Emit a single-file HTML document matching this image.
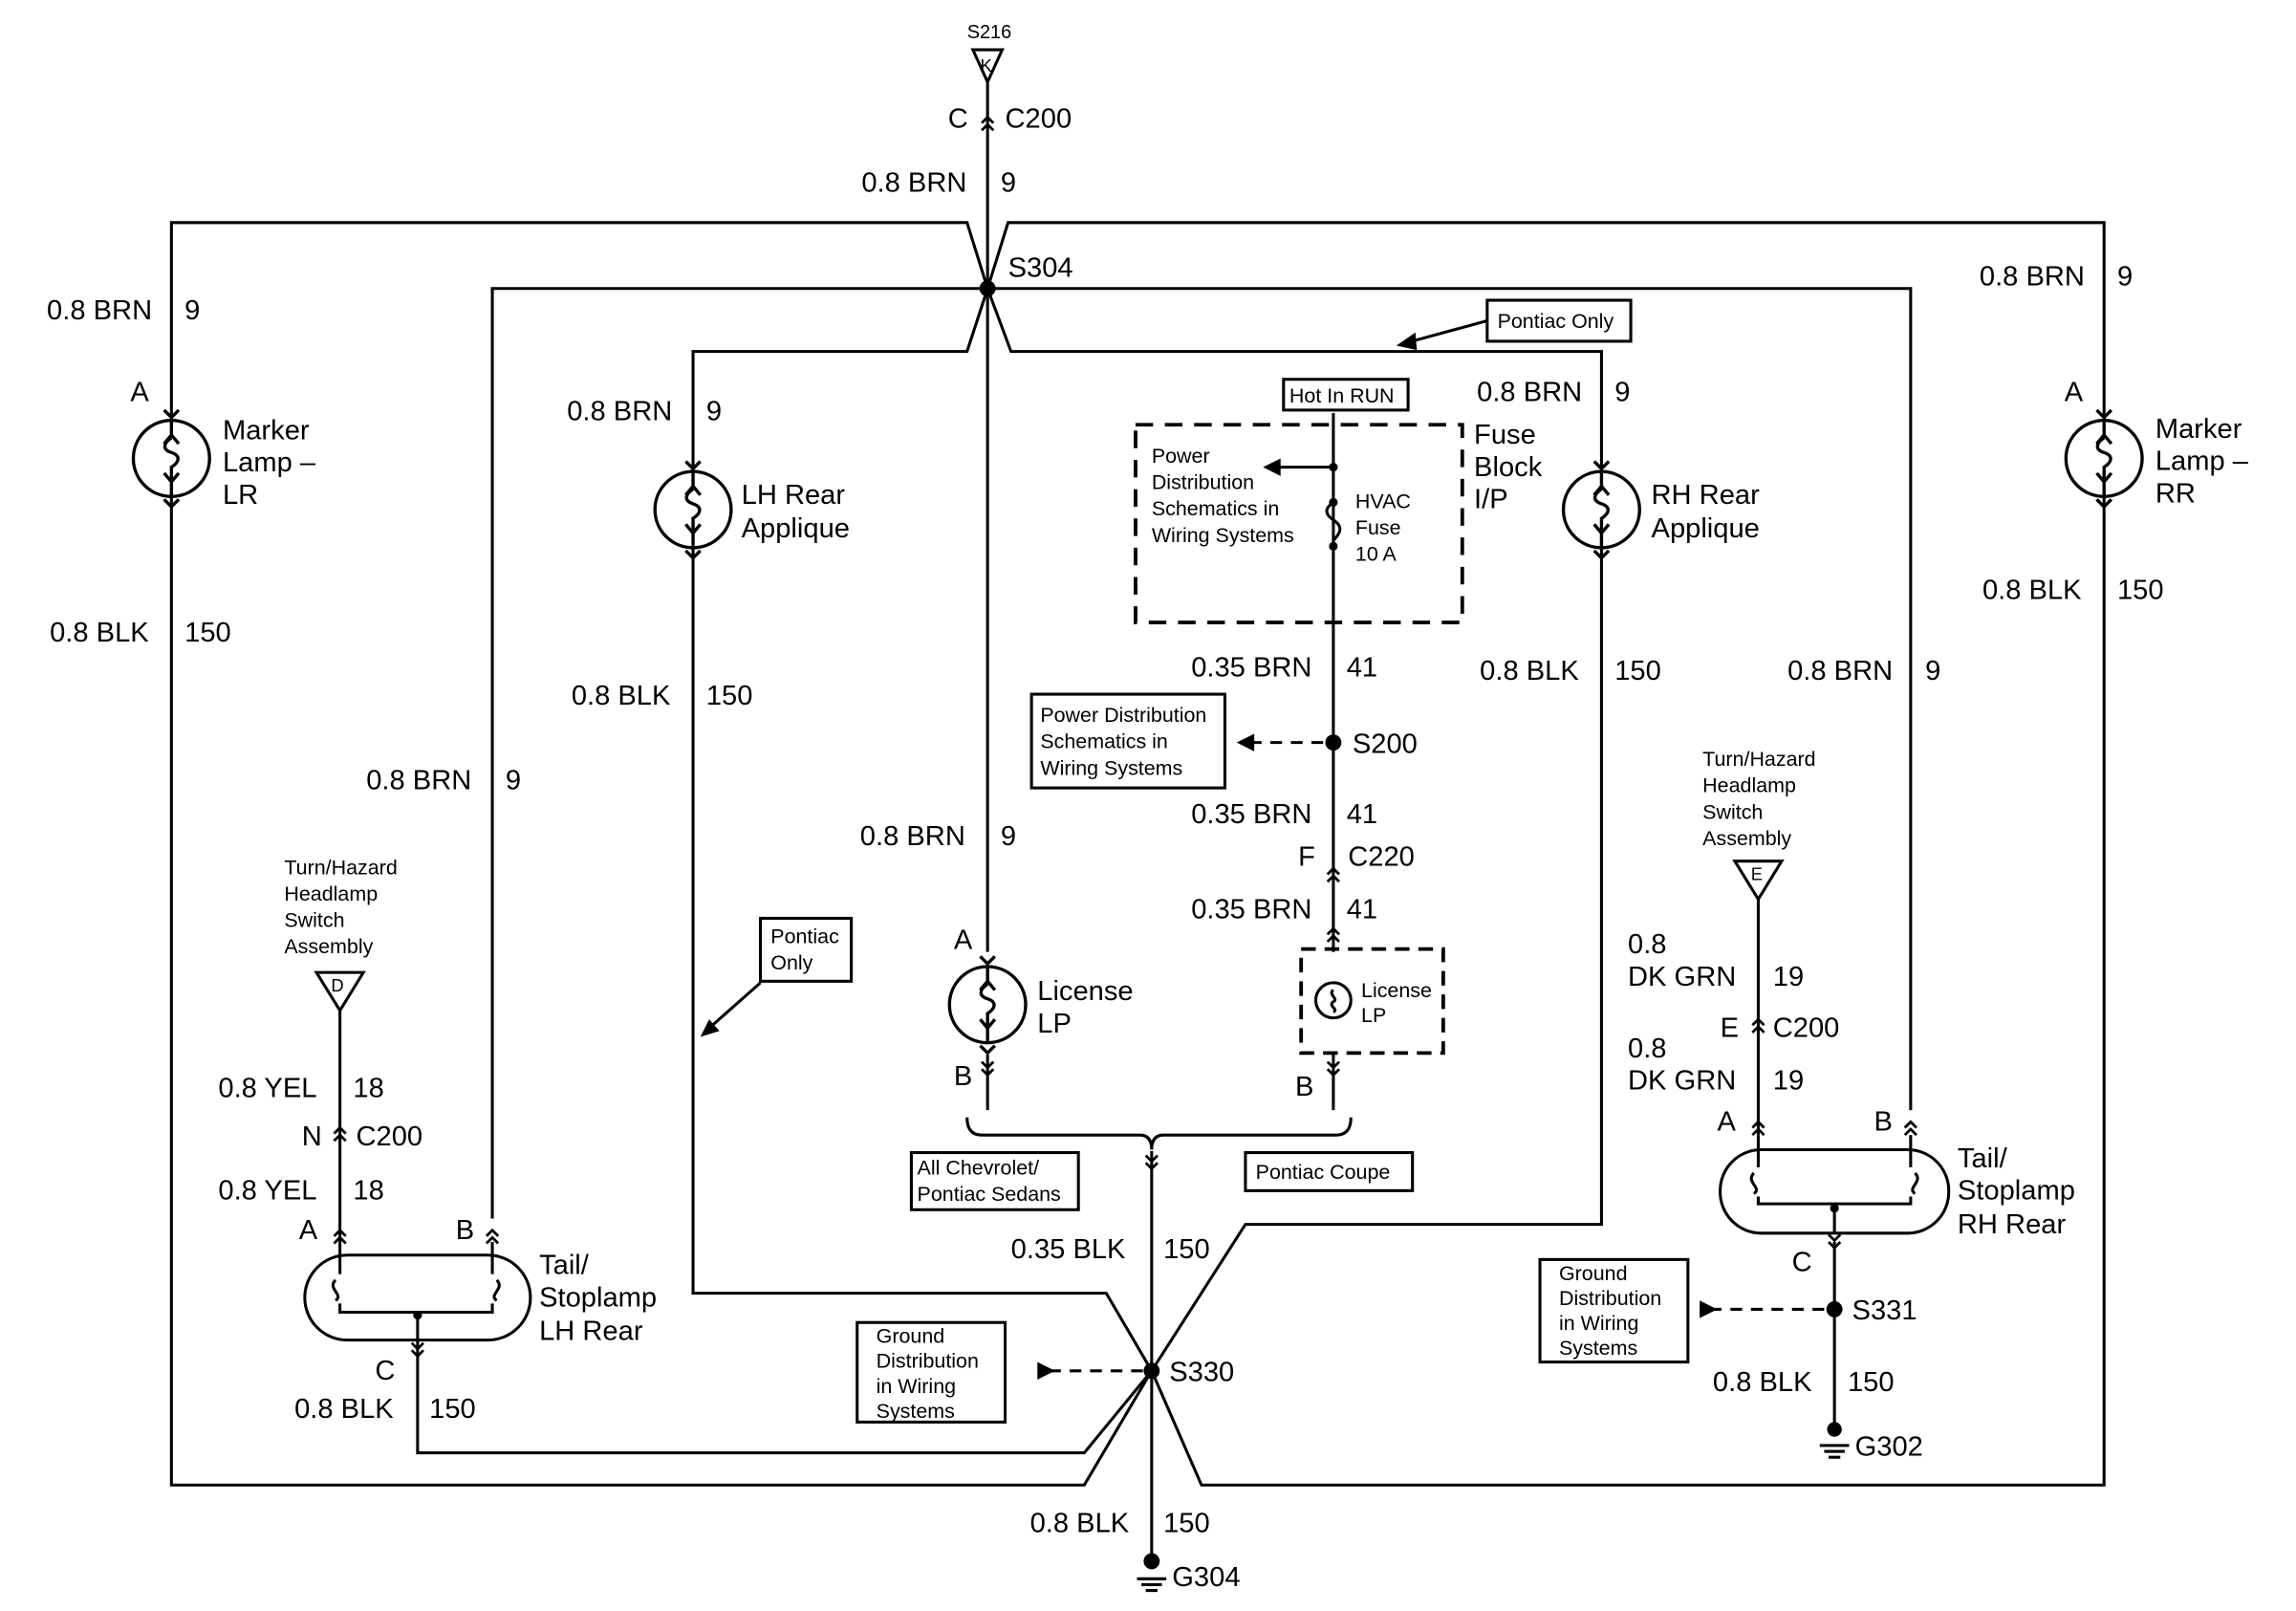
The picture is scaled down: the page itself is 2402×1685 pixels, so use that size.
<!DOCTYPE html>
<html><head><meta charset="utf-8"><style>
html,body{margin:0;padding:0;background:#fff}
svg{display:block}
text{font-family:"Liberation Sans",Arial,sans-serif;fill:#000}
.l{font-size:19px}
.s{font-size:14px}
</style></head><body>
<svg width="2402" height="1685" viewBox="0 0 1567 1100" preserveAspectRatio="none" xmlns="http://www.w3.org/2000/svg">
<defs>
<g id="lamp" fill="none" stroke="#000" stroke-width="2.2">
<circle r="26"/>
<path d="M0,-26 V-14 M-5,-10 L0,-16 L5,-10 M0,-14 c-6,4 -6,8 0,10 c6,2 6,6 0,10 V14 M-5,10 L0,16 L5,10 M0,16 V26"/>
<path d="M-5,-33 L0,-28 L5,-33 M-5,28 L0,33 L5,28"/>
</g>
<g id="chev" fill="none" stroke="#000" stroke-width="1.8"><path d="M-4,-2 L0,-6 L4,-2 M-4,3 L0,-1 L4,3"/></g>
<g id="chevd" fill="none" stroke="#000" stroke-width="1.8"><path d="M-4,-3 L0,1 L4,-3 M-4,2 L0,6 L4,2"/></g>
</defs>
<g fill="none" stroke="#000" stroke-width="2">
<path d="M664,34 H684 L674,56 Z"/>
<path d="M674,56 V650"/>
<path d="M117,286 V152 H660 L674,197 L688,152 H1436 V286"/>
<path d="M117,340 V1014 H740 L786,936 L820,1014 H1436 V340"/>
<path d="M336,832 V197 H1304 V758"/>
<path d="M473,322 V240 H660 L674,197 L690,240 H1093 V322"/>
<path d="M473,375 V883 H755 L786,936 L850,836 H1093 V375"/>
<path d="M786,786 V1066"/>
<path d="M285,925 V992 H740 L786,936"/>
<path d="M910,282 V650 M910,720 V758"/>
<path d="M910,319 H870"/>
<path d="M910,343 c-6,4 -6,8 0,12 c6,4 6,8 0,14" />
<path d="M674,720 V758"/>
<path d="M660,763 q0,12 10,12 H778 q8,0 8,10 q0,-10 8,-10 H912 q10,0 10,-12"/>
<path d="M216,664 H248 L232,690 Z M232,690 V848"/>
<path d="M1184,588 H1216 L1200,614 Z M1200,614 V775"/>
<rect x="208" y="857" width="154" height="58" rx="29"/>
<path d="M232,848 V870 M336,848 V870 M229,874 c-6,6 6,10 0,14 M339,874 c6,6 -6,10 0,14 M232,890 V896 H336 V890 M285,896 V915 M285,915 V925"/>
<rect x="1174" y="785" width="156" height="57" rx="28"/>
<path d="M1200,775 V797 M1304,775 V797 M1197,801 c-6,6 6,10 0,14 M1307,801 c6,6 -6,10 0,14 M1200,817 V822 H1304 V817 M1252,822 V842 M1252,848 V975"/>
<rect x="775" y="290" width="223" height="135" stroke-dasharray="12,8" stroke-width="2.5"/>
<rect x="888" y="648" width="97" height="71" stroke-dasharray="10,6" stroke-width="2.5"/>
<circle cx="910" cy="683" r="12"/>
<path d="M910,676 c-4,3 4,6 0,8 c-4,3 4,5 0,7"/>
<path d="M903,507 H855" stroke-dasharray="8,6"/>
<path d="M780,936 H710" stroke-dasharray="8,6"/>
<path d="M1245,894 H1170" stroke-dasharray="8,6"/>
<path d="M1015,219 L960,234"/>
<path d="M519,671 L484,702"/>
<rect x="876" y="259" width="85" height="21"/>
<rect x="1015" y="205" width="98" height="28"/>
<rect x="704" y="474" width="132" height="64"/>
<rect x="519" y="627" width="62" height="43"/>
<rect x="622" y="787" width="114" height="39"/>
<rect x="850" y="787" width="114" height="26"/>
<rect x="585" y="903" width="101" height="68"/>
<rect x="1051" y="860" width="101" height="70"/>
<path d="M776,1078 H796 M779,1082 H793 M782,1086 H790"/>
<path d="M1242,987 H1262 M1245,991 H1259 M1248,995 H1256"/>
</g>
<g fill="#000">
<path d="M862,319 L874,313 L874,325 Z"/>
<path d="M844,507 L856,501 L856,513 Z"/>
<path d="M720,936 L708,930 L708,942 Z"/>
<path d="M1172,894 L1160,888 L1160,900 Z"/>
<path d="M953,236 L966,227 L967,239 Z"/>
<path d="M478,708 L484,696 L491,704 Z"/>
<circle cx="674" cy="197" r="5.5"/>
<circle cx="910" cy="507" r="5.5"/>
<circle cx="786" cy="936" r="5.5"/>
<circle cx="1252" cy="894" r="5.5"/>
<circle cx="786" cy="1066" r="5.5"/>
<circle cx="1252" cy="976" r="5"/>
<circle cx="910" cy="319" r="3"/><circle cx="910" cy="343" r="3"/><circle cx="910" cy="373" r="3"/>
<circle cx="285" cy="898" r="3"/><circle cx="1252" cy="825" r="3"/>
</g>
<use href="#lamp" x="117" y="313"/>
<use href="#lamp" x="1436" y="313"/>
<use href="#lamp" x="473" y="348"/>
<use href="#lamp" x="1093" y="348"/>
<use href="#lamp" x="674" y="686"/>
<use href="#chev" x="674" y="86"/>
<use href="#chev" x="910" y="599"/>
<use href="#chev" x="910" y="640"/>
<use href="#chevd" x="910" y="728"/>
<use href="#chev" x="232" y="776"/>
<use href="#chev" x="232" y="846"/>
<use href="#chev" x="336" y="846"/>
<use href="#chevd" x="285" y="920"/>
<use href="#chev" x="1200" y="702"/>
<use href="#chev" x="1200" y="772"/>
<use href="#chev" x="1304" y="772"/>
<use href="#chevd" x="1252" y="846"/>
<use href="#chevd" x="674" y="728"/>
<use href="#chevd" x="786" y="792"/>
<g class="l">
<text x="660" y="26" class="s" style="font-size:13px">S216</text>
<text x="669" y="49" class="s" style="font-size:12px">K</text>
<text x="647" y="87">C</text><text x="686" y="87">C200</text>
<text x="588" y="131">0.8 BRN</text><text x="683" y="131">9</text>
<text x="688" y="189">S304</text>
<text x="32" y="218">0.8 BRN</text><text x="126" y="218">9</text>
<text x="89" y="274">A</text>
<text x="152" y="300">Marker</text><text x="152" y="322">Lamp –</text><text x="152" y="344">LR</text>
<text x="34" y="438">0.8 BLK</text><text x="126" y="438">150</text>
<text x="387" y="287">0.8 BRN</text><text x="482" y="287">9</text>
<text x="506" y="344">LH Rear</text><text x="506" y="367">Applique</text>
<text x="390" y="481">0.8 BLK</text><text x="482" y="481">150</text>
<text x="250" y="539">0.8 BRN</text><text x="345" y="539">9</text>
<text x="587" y="577">0.8 BRN</text><text x="683" y="577">9</text>
<text x="651" y="648">A</text><text x="651" y="741">B</text>
<text x="708" y="683">License</text><text x="708" y="705">LP</text>
<text x="1008" y="274">0.8 BRN</text><text x="1102" y="274">9</text>
<text x="1006" y="303">Fuse</text><text x="1006" y="325">Block</text><text x="1006" y="347">I/P</text>
<text x="1127" y="344">RH Rear</text><text x="1127" y="367">Applique</text>
<text x="1010" y="464">0.8 BLK</text><text x="1102" y="464">150</text>
<text x="1351" y="195">0.8 BRN</text><text x="1445" y="195">9</text>
<text x="1409" y="274">A</text>
<text x="1471" y="299">Marker</text><text x="1471" y="321">Lamp –</text><text x="1471" y="343">RR</text>
<text x="1353" y="409">0.8 BLK</text><text x="1445" y="409">150</text>
<text x="1220" y="464">0.8 BRN</text><text x="1314" y="464">9</text>
<text x="813" y="462">0.35 BRN</text><text x="919" y="462">41</text>
<text x="923" y="514">S200</text>
<text x="813" y="562">0.35 BRN</text><text x="919" y="562">41</text>
<text x="886" y="591">F</text><text x="920" y="591">C220</text>
<text x="813" y="627">0.35 BRN</text><text x="919" y="627">41</text>
<text x="884" y="748">B</text>
<text x="149" y="749">0.8 YEL</text><text x="241" y="749">18</text>
<text x="206" y="782">N</text><text x="243" y="782">C200</text>
<text x="149" y="819">0.8 YEL</text><text x="241" y="819">18</text>
<text x="204" y="846">A</text><text x="311" y="846">B</text>
<text x="368" y="870">Tail/</text><text x="368" y="892">Stoplamp</text><text x="368" y="915">LH Rear</text>
<text x="256" y="942">C</text>
<text x="201" y="968">0.8 BLK</text><text x="293" y="968">150</text>
<text x="690" y="859">0.35 BLK</text><text x="794" y="859">150</text>
<text x="798" y="943">S330</text>
<text x="703" y="1046">0.8 BLK</text><text x="794" y="1046">150</text>
<text x="800" y="1083">G304</text>
<text x="1111" y="651">0.8</text><text x="1111" y="673">DK GRN</text><text x="1210" y="673">19</text>
<text x="1174" y="708">E</text><text x="1210" y="708">C200</text>
<text x="1111" y="722">0.8</text><text x="1111" y="744">DK GRN</text><text x="1210" y="744">19</text>
<text x="1172" y="772">A</text><text x="1279" y="772">B</text>
<text x="1336" y="797">Tail/</text><text x="1336" y="819">Stoplamp</text><text x="1336" y="842">RH Rear</text>
<text x="1223" y="868">C</text>
<text x="1264" y="901">S331</text>
<text x="1169" y="950">0.8 BLK</text><text x="1261" y="950">150</text>
<text x="1266" y="994">G302</text>
</g>
<g class="s">
<text x="880" y="275">Hot In RUN</text>
<text x="1022" y="224">Pontiac Only</text>
<text x="786" y="316">Power</text><text x="786" y="334">Distribution</text><text x="786" y="352">Schematics in</text><text x="786" y="370">Wiring Systems</text>
<text x="925" y="347">HVAC</text><text x="925" y="365">Fuse</text><text x="925" y="383">10 A</text>
<text x="710" y="493">Power Distribution</text><text x="710" y="511">Schematics in</text><text x="710" y="529">Wiring Systems</text>
<text x="526" y="644">Pontiac</text><text x="526" y="662">Only</text>
<text x="929" y="681">License</text><text x="929" y="698">LP</text>
<text x="626" y="802">All Chevrolet/</text><text x="626" y="820">Pontiac Sedans</text>
<text x="857" y="805">Pontiac Coupe</text>
<text x="598" y="917">Ground</text><text x="598" y="934">Distribution</text><text x="598" y="951">in Wiring</text><text x="598" y="968">Systems</text>
<text x="1064" y="874">Ground</text><text x="1064" y="891">Distribution</text><text x="1064" y="908">in Wiring</text><text x="1064" y="925">Systems</text>
<text x="194" y="597">Turn/Hazard</text><text x="194" y="615">Headlamp</text><text x="194" y="633">Switch</text><text x="194" y="651">Assembly</text>
<text x="1162" y="523">Turn/Hazard</text><text x="1162" y="541">Headlamp</text><text x="1162" y="559">Switch</text><text x="1162" y="577">Assembly</text>
<text x="226" y="677" style="font-size:12px">D</text>
<text x="1195" y="601" style="font-size:12px">E</text>
</g>
</svg>
</body></html>
